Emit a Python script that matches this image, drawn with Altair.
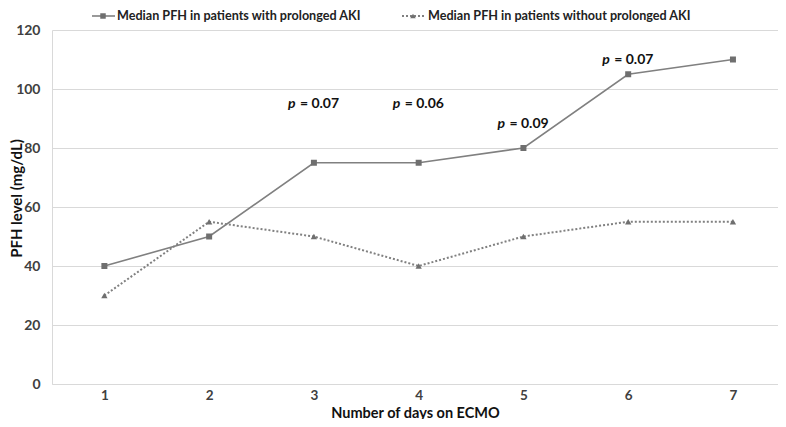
import altair as alt
import pandas as pd

days = [1, 2, 3, 4, 5, 6, 7]
with_aki = [40, 50, 75, 75, 80, 105, 110]
without_aki = [30, 55, 50, 40, 50, 55, 55]
series_names = ["Median PFH in patients with prolonged AKI",
                "Median PFH in patients without prolonged AKI"]
p_days = [3, 4, 5, 6]
p_values = ["= 0.07", "= 0.06", "= 0.09", "= 0.07"]
p_label_y = [95, 95, 88, 110]
y_ticks = [0, 20, 40, 60, 80, 100, 120]

FONT = "Lato"
LINE = "#808080"
MARK = "#6f6f6f"
TXT = "#404040"

df_a = pd.DataFrame({"day": days, "val": with_aki})
df_b = pd.DataFrame({"day": days, "val": without_aki})
df_p = pd.DataFrame({"day": p_days, "val": p_label_y, "txt": p_values})

xs = alt.Scale(domain=[0.5, 7.43], nice=False, zero=False)
ys = alt.Scale(domain=[0, 120], nice=False)

x_enc = alt.X("day:Q", scale=xs, axis=alt.Axis(
    values=days, format="d", grid=False, ticks=False, domainColor="#d9d9d9",
    labelFont=FONT, labelFontSize=13.5, labelFontWeight="bold", labelColor=TXT,
    labelPadding=4, title="Number of days on ECMO", titleFont=FONT,
    titleFontSize=14.5, titleFontWeight="bold", titleColor="#111111",
    titleBaseline="alphabetic", titleY=33))
y_enc = alt.Y("val:Q", scale=ys, axis=alt.Axis(
    values=y_ticks, grid=True, gridColor="#d9d9d9", ticks=False,
    domainColor="#d9d9d9", labelFont=FONT, labelFontSize=14,
    labelFontWeight="bold", labelColor=TXT, labelPadding=12,
    title="PFH level (mg/dL)", titleFont=FONT, titleFontSize=15,
    titleFontWeight="bold", titleColor="#111111", titleBaseline="alphabetic",
    titleX=-31, titleY=168))

line_a = alt.Chart(df_a).mark_line(color=LINE, strokeWidth=1.6).encode(x=x_enc, y=y_enc)
pts_a = alt.Chart(df_a).mark_point(shape="square", filled=True, color=MARK, size=36, opacity=1).encode(x="day:Q", y="val:Q")
line_b = alt.Chart(df_b).mark_line(color=LINE, strokeWidth=2, strokeDash=[2, 2]).encode(x="day:Q", y="val:Q")
pts_b = alt.Chart(df_b).mark_point(shape="triangle-up", filled=True, color=MARK, size=40, opacity=1).encode(x="day:Q", y="val:Q")

p_italic = alt.Chart(df_p).mark_text(font=FONT, fontSize=14, fontWeight="bold", fontStyle="italic",
                                     color="#111111", align="left", dx=-26).encode(
    x="day:Q", y="val:Q", text=alt.value("p"))
p_rest = alt.Chart(df_p).mark_text(font=FONT, fontSize=14, fontWeight="bold",
                                   color="#111111", align="left", dx=-14).encode(
    x="day:Q", y="val:Q", text="txt:N")

LEG_Y = -14
leg_df = pd.DataFrame({"name": series_names})
leg_line_a = alt.Chart(leg_df.iloc[[0]]).mark_rule(color=LINE, strokeWidth=1.6).encode(
    x=alt.value(40), x2=alt.value(63), y=alt.value(LEG_Y))
leg_pt_a = alt.Chart(leg_df.iloc[[0]]).mark_point(shape="square", filled=True, color=MARK, size=30, opacity=1).encode(
    x=alt.value(51), y=alt.value(LEG_Y))
leg_txt_a = alt.Chart(leg_df.iloc[[0]]).mark_text(font=FONT, fontSize=12.6, fontWeight="bold", color="#222222",
                                                  align="left", baseline="middle").encode(
    x=alt.value(65), y=alt.value(LEG_Y), text="name:N")
leg_line_b = alt.Chart(leg_df.iloc[[1]]).mark_rule(color=LINE, strokeWidth=2, strokeDash=[2, 2]).encode(
    x=alt.value(350), x2=alt.value(373), y=alt.value(LEG_Y))
leg_pt_b = alt.Chart(leg_df.iloc[[1]]).mark_point(shape="triangle-up", filled=True, color=MARK, size=30, opacity=1).encode(
    x=alt.value(361), y=alt.value(LEG_Y))
leg_txt_b = alt.Chart(leg_df.iloc[[1]]).mark_text(font=FONT, fontSize=12.6, fontWeight="bold", color="#222222",
                                                  align="left", baseline="middle").encode(
    x=alt.value(376), y=alt.value(LEG_Y), text="name:N")

chart = alt.layer(line_a, line_b, pts_a, pts_b, p_italic, p_rest,
                  leg_line_a, leg_pt_a, leg_txt_a, leg_line_b, leg_pt_b, leg_txt_b).properties(
    width=726, height=354,
    autosize=alt.AutoSizeParams(type="none"),
    padding={"left": 44, "top": 22, "right": 0, "bottom": 35},
    background="white",
).configure_view(stroke=None)

chart.save("out.html", embed_options={"renderer": "svg", "actions": False})
